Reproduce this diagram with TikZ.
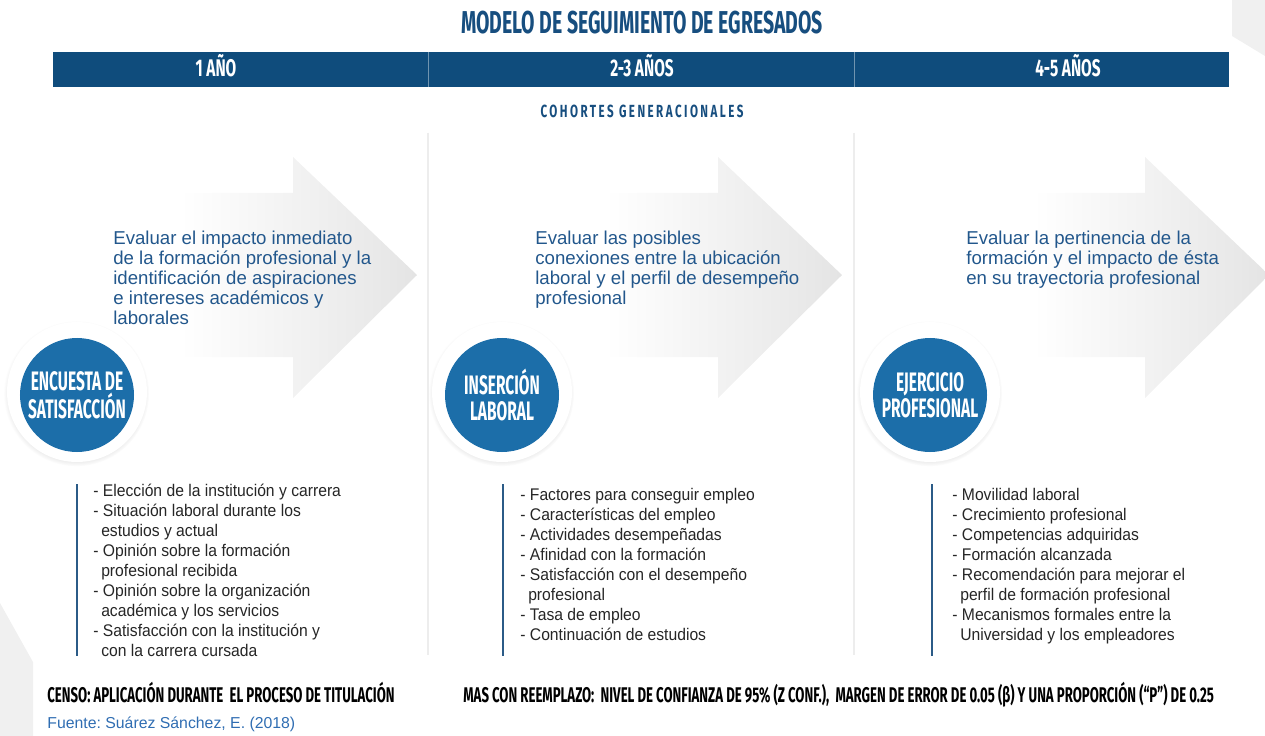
\documentclass[tikz,border=0pt]{standalone}
\usepackage{fontspec}
\setmainfont{Liberation Sans}
\newfontfamily\headfont{Fira Sans}[FakeStretch=0.615]
\newfontfamily\bandfont{Fira Sans}[FakeStretch=0.64]
\newfontfamily\circlefont{Fira Sans}[FakeStretch=0.58]
\newfontfamily\notefont{Fira Sans}[FakeStretch=0.62]
\newfontfamily\spacedfont{Fira Sans}[FakeStretch=0.66,LetterSpace=14]
\newfontfamily\listfont{Liberation Sans}[FakeStretch=0.93]
\usetikzlibrary{shadows}

\definecolor{bandblue}{HTML}{0F4C7C}
\definecolor{titleblue}{HTML}{174E7F}
\definecolor{circleblue}{HTML}{1C6EA9}
\definecolor{textblue}{HTML}{22578C}
\definecolor{barblue}{HTML}{2B5B87}
\definecolor{srcblue}{HTML}{2F6DB2}
\definecolor{listgray}{HTML}{262626}

\pgfdeclarehorizontalshading{arrowshade}{100bp}{color(0bp)=(white); color(38bp)=(white); color(70bp)=(black!9); color(100bp)=(black!19)}

\tikzset{
  titletext/.style={font=\headfont\bfseries\fontsize{18}{19}\selectfont, text=titleblue, inner sep=0},
  bandtext/.style={font=\bandfont\bfseries\fontsize{13.7}{15}\selectfont, text=white, inner sep=0},
  ringbox/.style={circle, fill=white, minimum size=28mm, inner sep=0,
    circular drop shadow={shadow xshift=-0.4pt, shadow yshift=-0.8pt, shadow scale=1.04, opacity=0.3}},
  stagebox/.style={circle, fill=circleblue, minimum size=22.8mm, inner sep=0, align=center,
    text=white, font=\circlefont\bfseries\fontsize{15.2}{14.6}\selectfont},
  aimtext/.style={font=\fontsize{10.6}{11.34}\selectfont, text=textblue, align=left, inner sep=0},
  itemtext/.style={font=\listfont\fontsize{9.6}{11.34}\selectfont, text=listgray, align=left, inner sep=0},
  notetext/.style={font=\notefont\bfseries\fontsize{12.1}{13}\selectfont, text=black, inner sep=0}
}

\begin{document}
\frenchspacing
\begin{tikzpicture}[x=0.2mm,y=-0.2mm]
  \useasboundingbox (0,0) rectangle (1265,736);
%Ecken
  \fill[black!6] (0,603) -- (33,662) -- (33,736) -- (0,736) -- cycle;
  \fill[black!6] (1232,0) -- (1232,36) -- (1265,56) -- (1265,0) -- cycle;
%Titel
  \draw (642,34) node (titulo) [anchor=base, titletext] {MODELO DE SEGUIMIENTO DE EGRESADOS};
%Band
  \fill[bandblue] (53,52) rectangle (1229,87);
  \draw[bandblue!60!white, line width=0.2mm] (428,52) -- (428,87);
  \draw[bandblue!60!white, line width=0.2mm] (854,52) -- (854,87);
  \draw (216,77) node (anio1) [anchor=base, bandtext] {1 AÑO};
  \draw (642,77) node (anio2) [anchor=base, bandtext] {2-3 AÑOS};
  \draw (1068,77) node (anio3) [anchor=base, bandtext] {4-5 AÑOS};
  \draw (642,118) node (cohortes) [anchor=base, inner sep=0, text=titleblue,
    font=\spacedfont\bfseries\fontsize{10}{11}\selectfont] {COHORTES GENERACIONALES};
  \shade[left color=white, middle color=black!16, right color=white] (150,129) rectangle (1240,133);
%Trennlinien
  \draw[black!7, line width=0.3mm] (428,133) -- (428,655);
  \draw[black!7, line width=0.3mm] (854,133) -- (854,655);
%Pfeile
  \shade[shading=arrowshade] (97,193) -- (293,193) -- (293,157) -- (417,275) -- (293,398) -- (293,357) -- (97,357) -- cycle;
  \shade[shading=arrowshade] (522,193) -- (718,193) -- (718,157) -- (842,275) -- (718,398) -- (718,357) -- (522,357) -- cycle;
  \shade[shading=arrowshade] (950,193) -- (1145,193) -- (1145,157) -- (1269,275) -- (1145,398) -- (1145,357) -- (950,357) -- cycle;
  \draw (113,231) node (obj1) [anchor=north west, aimtext]
    {Evaluar el impacto inmediato\\de la formación profesional y la\\identificación de aspiraciones\\e intereses académicos y\\laborales};
  \draw (535,231) node (obj2) [anchor=north west, aimtext]
    {Evaluar las posibles\\conexiones entre la ubicación\\laboral y el perfil de desempeño\\profesional};
  \draw (966,231) node (obj3) [anchor=north west, aimtext]
    {Evaluar la pertinencia de la\\formación y el impacto de ésta\\en su trayectoria profesional};
%Kreise
  \draw (77,392) node (ring1) [ringbox] {};
  \draw (77,395) node (encuesta) [stagebox] {ENCUESTA DE\\SATISFACCIÓN};
  \draw (502,392) node (ring2) [ringbox] {};
  \draw (502,395) node (insercion) [stagebox] {INSERCIÓN\\LABORAL};
  \draw (930,392) node (ring3) [ringbox] {};
  \draw (930,395) node (ejercicio) [stagebox] {EJERCICIO\\PROFESIONAL};
%Listen
  \draw[barblue, line width=0.5mm] (77,484) -- (77,656);
  \draw (93,484) node (lista1) [anchor=north west, itemtext]
    {- Elección de la institución y carrera\\
     - Situación laboral durante los\\
     \hspace*{4.5pt}estudios y actual\\
     - Opinión sobre la formación\\
     \hspace*{4.5pt}profesional recibida\\
     - Opinión sobre la organización\\
     \hspace*{4.5pt}académica y los servicios\\
     - Satisfacción con la institución y\\
     \hspace*{4.5pt}con la carrera cursada};
  \draw[barblue, line width=0.5mm] (503,484) -- (503,656);
  \draw (520,488) node (lista2) [anchor=north west, itemtext]
    {- Factores para conseguir empleo\\
     - Características del empleo\\
     - Actividades desempeñadas\\
     - Afinidad con la formación\\
     - Satisfacción con el desempeño\\
     \hspace*{4.5pt}profesional\\
     - Tasa de empleo\\
     - Continuación de estudios};
  \draw[barblue, line width=0.5mm] (932,484) -- (932,656);
  \draw (952,488) node (lista3) [anchor=north west, itemtext]
    {- Movilidad laboral\\
     - Crecimiento profesional\\
     - Competencias adquiridas\\
     - Formación alcanzada\\
     - Recomendación para mejorar el\\
     \hspace*{4.5pt}perfil de formación profesional\\
     - Mecanismos formales entre la\\
     \hspace*{4.5pt}Universidad y los empleadores};
%Fuss
  \draw (47,702) node (censo) [anchor=base west, notetext]
    {CENSO: APLICACIÓN DURANTE\ \ EL PROCESO DE TITULACIÓN};
  \draw (463,702) node (mas) [anchor=base west, notetext]
    {MAS CON REEMPLAZO:\ \ NIVEL DE CONFIANZA DE 95\% (Z CONF.),\ \ MARGEN DE ERROR DE 0.05 (β) Y UNA PROPORCIÓN (“P”) DE 0.25};
  \draw (47,728) node (fuente) [anchor=base west, inner sep=0, text=srcblue,
    font=\fontsize{9.0}{11}\selectfont] {Fuente: Suárez Sánchez, E. (2018)};
\end{tikzpicture}
\end{document}
